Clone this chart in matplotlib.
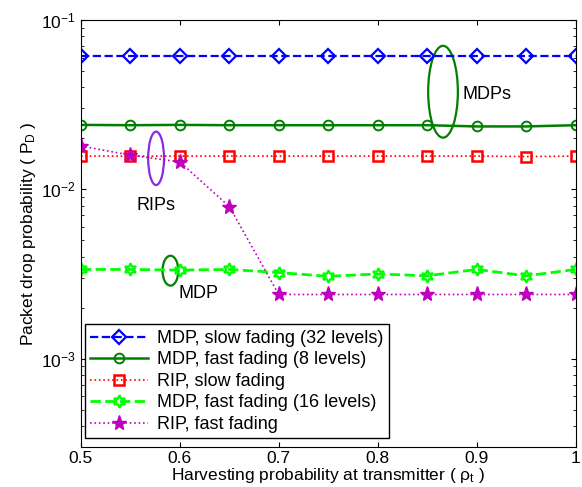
import numpy as np
import matplotlib.pyplot as plt
from matplotlib.patches import Ellipse

plt.rc('font', family='Liberation Sans', size=12.5)
plt.rc('mathtext', fontset='custom', rm='Liberation Sans', it='Liberation Sans:italic')

rho = [0.5, 0.55, 0.6, 0.65, 0.7, 0.75, 0.8, 0.85, 0.9, 0.95, 1.0]

mdp_slow_32 = [0.0612, 0.0612, 0.0612, 0.0612, 0.0612, 0.0612, 0.0612, 0.0612, 0.0612, 0.0612, 0.0612]
mdp_fast_8 = [0.0240, 0.0239, 0.0240, 0.0239, 0.0239, 0.0239, 0.0239, 0.0239, 0.0235, 0.0235, 0.0239]
rip_slow = [0.0157, 0.0157, 0.0157, 0.0157, 0.0157, 0.0157, 0.0157, 0.0157, 0.0157, 0.0156, 0.0157]
mdp_fast_16 = [0.00336, 0.00336, 0.00333, 0.00336, 0.00322, 0.00306, 0.00316, 0.00308, 0.00336, 0.00308, 0.00336]
rip_fast = [0.0180, 0.0159, 0.0145, 0.0079, 0.00239, 0.00239, 0.00239, 0.00239, 0.00239, 0.00239, 0.00239]

fig = plt.figure(figsize=(5.82, 4.87), dpi=100)
ax = fig.add_axes([0.139, 0.082, 0.850, 0.877])

ax.semilogy(rho, mdp_slow_32, '--', color='blue', marker='D', mfc='none', mew=1.6, ms=7, lw=1.6,
            label='MDP, slow fading (32 levels)')
ax.semilogy(rho, mdp_fast_8, '-', color='#007f00', marker='o', mfc='none', mew=1.4, ms=7, lw=1.8,
            label='MDP, fast fading (8 levels)')
ax.semilogy(rho, rip_slow, ':', color='red', marker='s', mfc='none', mew=1.8, ms=6.5, lw=1.2,
            label='RIP, slow fading')
ax.semilogy(rho, mdp_fast_16, '--', color='#00ff00', marker=(6, 1, 0), mfc='none', mew=1.6, ms=9, lw=2,
            label='MDP, fast fading (16 levels)')
ax.semilogy(rho, rip_fast, ':', color='#bf00bf', marker='*', ms=11, lw=1.2,
            label='RIP, fast fading')

ax.set_xlim(0.5, 1.0)
ax.set_ylim(3e-4, 1e-1)
ax.set_xticks(np.arange(0.5, 1.01, 0.1))
ax.set_xticklabels(['0.5', '0.6', '0.7', '0.8', '0.9', '1'])
ax.tick_params(which='both', direction='in', top=True, right=True)
ax.tick_params(axis='x', pad=3)

ax.set_xlabel('Harvesting probability at transmitter ( ρ$_\\mathrm{t}$ )', labelpad=0)
ax.set_ylabel('Packet drop probability ( P$_\\mathrm{D}$ )', labelpad=2)

# annotation ellipses in axes fraction
ax.add_patch(Ellipse((0.152, 0.676), 0.032, 0.125, transform=ax.transAxes,
                     fill=False, ec='#8a2be2', lw=1.6))
ax.text(0.152, 0.565, 'RIPs', transform=ax.transAxes, ha='center', va='center', fontsize=13)
ax.add_patch(Ellipse((0.732, 0.832), 0.06, 0.215, transform=ax.transAxes,
                     fill=False, ec='#007f00', lw=1.6))
ax.text(0.772, 0.825, 'MDPs', transform=ax.transAxes, ha='left', va='center', fontsize=13)
ax.add_patch(Ellipse((0.181, 0.413), 0.032, 0.07, transform=ax.transAxes,
                     fill=False, ec='#007f00', lw=1.6))
ax.text(0.238, 0.360, 'MDP', transform=ax.transAxes, ha='center', va='center', fontsize=13)

leg = ax.legend(loc='lower left', bbox_to_anchor=(0.0, 0.012), fancybox=False, framealpha=1,
                edgecolor='black', handlelength=3.2, labelspacing=0.25, borderpad=0.3,
                handletextpad=0.5, borderaxespad=0.2, fontsize=13)
leg.get_frame().set_linewidth(1.0)

fig.savefig('out.png', dpi=100)
